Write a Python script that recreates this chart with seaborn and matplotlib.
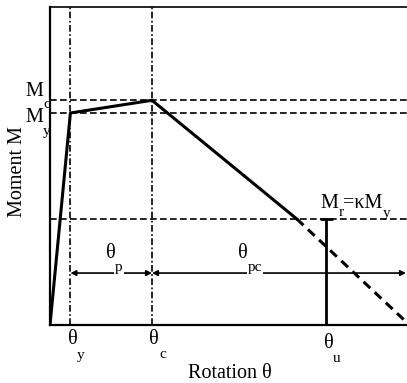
import matplotlib
matplotlib.use("Agg")
import matplotlib.pyplot as plt
import seaborn as sns
import pandas as pd

# ---- data (normalised: M_y = 1, theta_c = 1) ----
theta_backbone = [0.0, 0.2, 1.0, 2.42]
moment_backbone = [0.0, 1.0, 1.06, 0.5]
theta_degrade = [2.42, 3.48]
moment_degrade = [0.5, 0.02]
theta_u = 2.71
theta_y, theta_c = 0.2, 1.0
M_y, M_c, M_r = 1.0, 1.06, 0.5
arrow_level = 0.245
x_max, y_max = 3.5, 1.5

moment_labels = [("M", "c"), ("M", "y")]
rotation_labels = [("θ", "y"), ("θ", "c"), ("θ", "u")]
span_labels = [("θ", "p"), ("θ", "pc")]
x_label = "Rotation θ"
y_label = "Moment M"
residual_label = ("M", "r", "=κM", "y")

sns.set_theme(style="white")
plt.rcParams["font.family"] = ["Liberation Serif", "DejaVu Serif"]

W, H = 407, 383
fig = plt.figure(figsize=(W / 100, H / 100), dpi=100)
ax = fig.add_axes([50 / W, 58 / H, 357 / W, 318 / H])
ax.set_xlim(0, x_max)
ax.set_ylim(0, y_max)
ax.set_xticks([])
ax.set_yticks([])
for s in ["left", "bottom"]:
    ax.spines[s].set_color("black")
    ax.spines[s].set_linewidth(1.6)
ax.spines["top"].set_color("black")
ax.spines["top"].set_linewidth(1.2)
ax.spines["right"].set_visible(False)

dash = (0, (4, 2))
dashdot = (0, (4, 1.5, 1, 1.5))
for m in [M_c, M_y, M_r]:
    ax.axhline(m, color="black", lw=1.2, ls=dash, zorder=1)
for t_ in [theta_y, theta_c]:
    ax.axvline(t_, color="black", lw=1.2, ls=dashdot, zorder=1)

df_b = pd.DataFrame({"theta": theta_backbone, "M": moment_backbone})
sns.lineplot(data=df_b, x="theta", y="M", sort=False, estimator=None,
             color="black", lw=2.2, ax=ax, zorder=3)
df_d = pd.DataFrame({"theta": theta_degrade, "M": moment_degrade})
sns.lineplot(data=df_d, x="theta", y="M", sort=False, estimator=None,
             color="black", lw=2.2, ls=(0, (3, 2)), ax=ax, zorder=3)
df_u = pd.DataFrame({"theta": [theta_u, theta_u], "M": [M_r, 0.0]})
sns.lineplot(data=df_u, x="theta", y="M", sort=False, estimator=None,
             color="black", lw=2.0, ax=ax, zorder=3)
df_t = pd.DataFrame({"theta": [theta_u - 0.05, theta_u + 0.05], "M": [M_r, M_r]})
sns.lineplot(data=df_t, x="theta", y="M", sort=False, estimator=None,
             color="black", lw=2.0, ax=ax, zorder=3)
ax.set_xlabel("")
ax.set_ylabel("")

ax.annotate("", xy=(theta_y, arrow_level), xytext=(theta_c, arrow_level),
            arrowprops=dict(arrowstyle="<|-|>", lw=1.2, color="black",
                            mutation_scale=8, shrinkA=0, shrinkB=0),
            annotation_clip=False)
ax.annotate("", xy=(theta_c, arrow_level), xytext=(x_max - 0.01, arrow_level),
            arrowprops=dict(arrowstyle="<|-|>", lw=1.2, color="black",
                            mutation_scale=8, shrinkA=0, shrinkB=0),
            annotation_clip=False)


def t(px, py, s, size=13, **kw):
    fig.text(px / W, 1 - py / H, s, fontsize=size, ha="center", va="center",
             color="black", **kw)


big, small = 14.5, 11
white = dict(facecolor="white", edgecolor="none", pad=0.5)
# moment labels
t(34, 91, moment_labels[0][0], big)
t(47, 104, moment_labels[0][1], small)
t(34, 117, moment_labels[1][0], big)
t(47, 131, moment_labels[1][1], small)
t(18, 172, y_label, big, rotation=90)
# rotation labels
for (g, sub), (gx, gy), (sx, sy) in zip(rotation_labels,
                                        [(73, 340), (154, 340), (329, 344)],
                                        [(81, 355), (163, 355), (337, 359)]):
    t(gx, gy, g, big)
    t(sx, sy, sub, small)
t(230, 373, x_label, big)
# span labels
t(111, 254, span_labels[0][0], big)
t(119, 268, span_labels[0][1], small, bbox=white)
t(243, 254, span_labels[1][0], big)
t(255, 267, span_labels[1][1], small, bbox=white)
# residual label
t(329, 203, residual_label[0], big)
t(341, 213, residual_label[1], small)
t(363, 204, residual_label[2], big)
t(387, 214, residual_label[3], small)

fig.savefig("out.png", dpi=100)
